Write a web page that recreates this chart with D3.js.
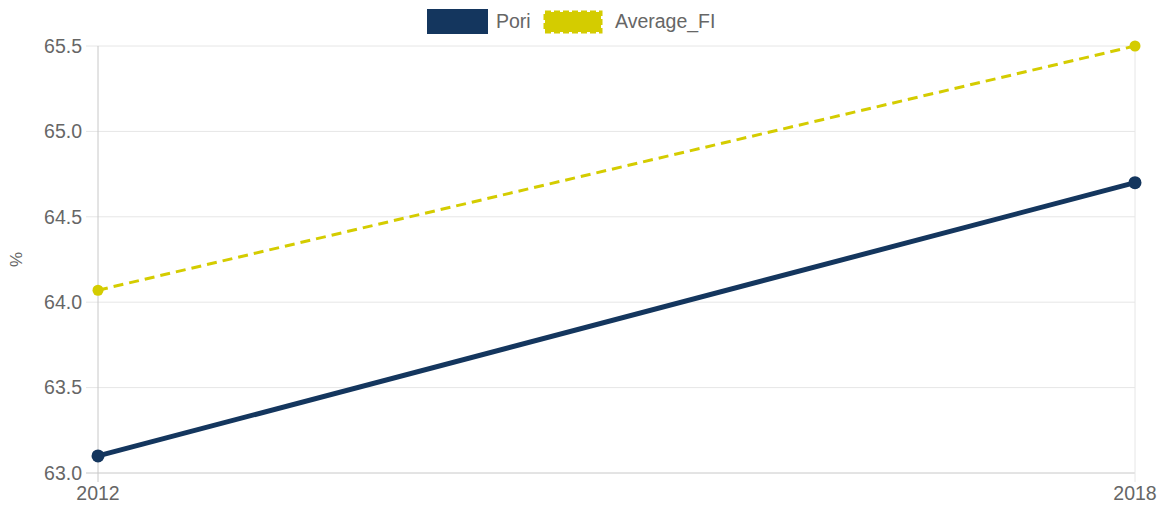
<!DOCTYPE html>
<html>
<head>
<meta charset="utf-8">
<script src="https://cdn.jsdelivr.net/npm/d3@7"></script>
<style>
  body { margin: 0; background: #fff; }
  svg { display: block; font-family: "Liberation Sans", Arial, sans-serif; }
</style>
</head>
<body>
<div id="chart"></div>
<script>
// data
var years = ["2012", "2018"];
var pori = [63.1, 64.7];
var averageFI = [64.07, 65.5];
var yTicks = [63.0, 63.5, 64.0, 64.5, 65.0, 65.5];

var width = 1159, height = 505;
var margin = {top: 46, right: 24, bottom: 32, left: 98};
var fontSize = "19.5px";

var svg = d3.select("#chart").append("svg")
    .attr("width", width)
    .attr("height", height);

var x = d3.scalePoint()
    .domain(years)
    .range([margin.left, width - margin.right]);
var y = d3.scaleLinear()
    .domain([63, 65.5])
    .range([height - margin.bottom, margin.top]);

// grid lines
svg.append("g").selectAll("line")
    .data(yTicks)
    .enter().append("line")
    .attr("x1", margin.left - 12)
    .attr("x2", width - margin.right)
    .attr("y1", d => y(d))
    .attr("y2", d => y(d))
    .style("stroke", (d, i) => i === 0 ? "#c8c8c8" : "#e6e6e6")
    .style("stroke-width", 1);

svg.append("g").selectAll("line")
    .data(years)
    .enter().append("line")
    .attr("x1", d => x(d))
    .attr("x2", d => x(d))
    .attr("y1", margin.top)
    .attr("y2", height - margin.bottom + 9)
    .style("stroke", (d, i) => i === 0 ? "#c8c8c8" : "#e6e6e6")
    .style("stroke-width", 1);

// tick labels
svg.append("g").selectAll("text")
    .data(yTicks)
    .enter().append("text")
    .attr("x", margin.left - 16)
    .attr("y", d => y(d))
    .attr("dy", "0.35em")
    .style("text-anchor", "end")
    .style("font-size", fontSize)
    .style("fill", "#666")
    .text(d => d3.format(".1f")(d));

svg.append("g").selectAll("text")
    .data(years)
    .enter().append("text")
    .attr("x", d => x(d))
    .attr("y", height - margin.bottom + 27)
    .style("text-anchor", "middle")
    .style("font-size", fontSize)
    .style("fill", "#666")
    .text(d => d);

// y axis title
svg.append("text")
    .attr("transform", "translate(22," + ((margin.top + height - margin.bottom) / 2) + ") rotate(-90)")
    .style("text-anchor", "middle")
    .style("font-size", "17px")
    .style("fill", "#666")
    .text("%");

var line = d3.line()
    .x((d, i) => x(years[i]))
    .y(d => y(d));

// Average_FI
svg.append("path")
    .datum(averageFI)
    .attr("d", line)
    .style("fill", "none")
    .style("stroke", "#d4cc00")
    .style("stroke-width", 3)
    .style("stroke-dasharray", "10,6");
svg.append("g").selectAll("circle")
    .data(averageFI)
    .enter().append("circle")
    .attr("cx", (d, i) => x(years[i]))
    .attr("cy", d => y(d))
    .attr("r", 5.5)
    .style("fill", "#d4cc00");

// Pori
svg.append("path")
    .datum(pori)
    .attr("d", line)
    .style("fill", "none")
    .style("stroke", "#14365e")
    .style("stroke-width", 5);
svg.append("g").selectAll("circle")
    .data(pori)
    .enter().append("circle")
    .attr("cx", (d, i) => x(years[i]))
    .attr("cy", d => y(d))
    .attr("r", 6.5)
    .style("fill", "#14365e");

// legend
var legend = svg.append("g");
legend.append("rect")
    .attr("x", 427).attr("y", 9)
    .attr("width", 61).attr("height", 25)
    .style("fill", "#14365e");
legend.append("text")
    .attr("x", 496).attr("y", 21).attr("dy", "0.35em")
    .style("font-size", fontSize).style("fill", "#666")
    .text("Pori");
legend.append("rect")
    .attr("x", 545).attr("y", 12)
    .attr("width", 56).attr("height", 20)
    .style("fill", "#d4cc00")
    .style("stroke", "#d4cc00")
    .style("stroke-width", 3)
    .style("stroke-dasharray", "6,3");
legend.append("text")
    .attr("x", 615).attr("y", 21).attr("dy", "0.35em")
    .style("font-size", fontSize).style("fill", "#666")
    .text("Average_FI");
</script>
</body>
</html>
